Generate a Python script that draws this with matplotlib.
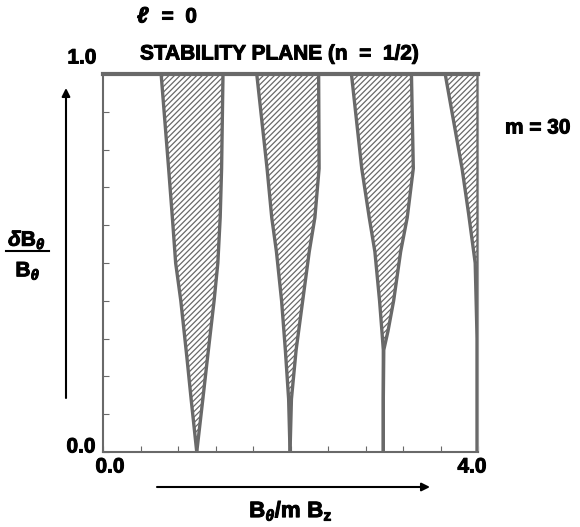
import numpy as np
import matplotlib
matplotlib.use('Agg')
import matplotlib.pyplot as plt
import matplotlib.patheffects as pe
from matplotlib.lines import Line2D

plt.rcParams['font.family'] = ['Liberation Sans', 'DejaVu Sans']
plt.rcParams['font.weight'] = 'bold'
plt.rcParams['mathtext.fontset'] = 'custom'
plt.rcParams['mathtext.rm'] = 'Liberation Sans:bold'
plt.rcParams['mathtext.it'] = 'Liberation Sans:italic:bold'
plt.rcParams['mathtext.bf'] = 'Liberation Sans:bold'
plt.rcParams['hatch.linewidth'] = 0.9

# unstable wedges in the (B_theta/m B_z, dB_theta/B_theta) plane
w1_y = [0.0, 0.14, 0.25, 0.40, 0.50, 0.62, 0.75, 1.0]
w1_left = [1.0, 0.94, 0.895, 0.83, 0.775, 0.74, 0.70, 0.62]
w1_right = [1.0, 1.065, 1.115, 1.185, 1.225, 1.25, 1.265, 1.28]

w2_y = [0.0, 0.14, 0.27, 0.40, 0.53, 0.62, 0.75, 1.0]
w2_left = [1.995, 1.98, 1.945, 1.905, 1.85, 1.80, 1.75, 1.64]
w2_right = [1.995, 2.01, 2.06, 2.13, 2.20, 2.26, 2.305, 2.30]

w3_y = [0.0, 0.14, 0.27, 0.32, 0.40, 0.53, 0.62, 0.75, 1.0]
w3_left = [2.99, 2.99, 2.99, 2.975, 2.95, 2.90, 2.84, 2.76, 2.65]
w3_right = [2.99, 2.99, 2.995, 3.04, 3.10, 3.175, 3.245, 3.31, 3.29]

w4_y = [0.0, 0.30, 0.50, 0.63, 0.75, 1.0]
w4_left = [3.99, 3.99, 3.97, 3.90, 3.83, 3.65]
w4_right = [3.995, 3.995, 4.0, 4.0, 4.0, 4.0]

wedges = [(w1_y, w1_left, w1_right), (w2_y, w2_left, w2_right),
          (w3_y, w3_left, w3_right), (w4_y, w4_left, w4_right)]

xminor = np.arange(0, 4.01, 0.4)
yminor = np.arange(0, 1.01, 0.1)

gray = '#696969'
heavy = [pe.withStroke(linewidth=0.7, foreground='black')]

fig = plt.figure(figsize=(5.8, 5.27), dpi=100)
ax = fig.add_axes([103/580, 1-452/527, 375/580, 378/527])

for wy, wl, wr in wedges:
    ax.fill_betweenx(wy, wl, wr, facecolor='white', edgecolor=gray,
                     hatch='//////', linewidth=0)
    ax.plot(wl, wy, color=gray, lw=2.4, solid_joinstyle='round')
    ax.plot(wr, wy, color=gray, lw=2.4, solid_joinstyle='round')

ax.set_xlim(0, 4.0)
ax.set_ylim(0, 1.0)
ax.set_xticks(xminor)
ax.set_yticks(yminor)
ax.set_xticklabels([])
ax.set_yticklabels([])
ax.tick_params(direction='in', length=4.5, width=0.8, color=gray,
               top=False, right=False)

for s in ['left', 'bottom']:
    ax.spines[s].set_color(gray)
    ax.spines[s].set_linewidth(1.5)
ax.spines['top'].set_color(gray)
ax.spines['top'].set_linewidth(3)
ax.spines['right'].set_color('#9a9a9a')
ax.spines['right'].set_linewidth(0.8)

fs = 15
fig.text(137/580, 1-17/527, 'ℓ', fontsize=fs + 1, fontweight='bold',
         style='italic', ha='left', va='center', path_effects=heavy)
fig.text(150/580, 1-17/527, '  =  0', fontsize=fs, fontweight='bold',
         ha='left', va='center', path_effects=heavy)
fig.text(140/580, 1-54/527, 'STABILITY PLANE (n  =  1/2)', fontsize=fs,
         fontweight='bold', ha='left', va='center', path_effects=heavy)
fig.text(505/580, 1-128/527, 'm = 30', fontsize=fs, fontweight='bold',
         ha='left', va='center', path_effects=heavy)

fig.text(82/580, 1-58/527, '1.0', fontsize=fs, fontweight='bold',
         ha='center', va='center', path_effects=heavy)
fig.text(81/580, 1-447/527, '0.0', fontsize=fs, fontweight='bold',
         ha='center', va='center', path_effects=heavy)
fig.text(110/580, 1-467/527, '0.0', fontsize=fs, fontweight='bold',
         ha='center', va='center', path_effects=heavy)
fig.text(472/580, 1-467/527, '4.0', fontsize=fs, fontweight='bold',
         ha='center', va='center', path_effects=heavy)

# y label as a fraction
fig.text(27/580, 1-240/527, r'$\delta\mathrm{B}_{\theta}$', fontsize=fs,
         ha='center', va='center', path_effects=heavy)
fig.add_artist(Line2D([6/580, 49/580], [1-251/527, 1-251/527],
                      transform=fig.transFigure, color='black', lw=1.5))
fig.text(28/580, 1-271/527, r'$\mathrm{B}_{\theta}$', fontsize=fs,
         ha='center', va='center', path_effects=heavy)

fig.text(291/580, 1-511/527, r'$\mathrm{B}_{\theta}\mathrm{/m\ B}_{\mathrm{z}}$',
         fontsize=fs + 1, ha='center', va='center', path_effects=heavy)

# axis arrows
ax.annotate('', xy=(66/580, 1-88/527), xytext=(66/580, 1-398/527),
            xycoords='figure fraction', textcoords='figure fraction',
            arrowprops=dict(arrowstyle='-|>', color='black', lw=1.5,
                            mutation_scale=12, shrinkA=0, shrinkB=0))
ax.annotate('', xy=(430/580, 1-487/527), xytext=(157/580, 1-487/527),
            xycoords='figure fraction', textcoords='figure fraction',
            arrowprops=dict(arrowstyle='-|>', color='black', lw=1.5,
                            mutation_scale=12, shrinkA=0, shrinkB=0))

fig.savefig('out.png', dpi=100)
